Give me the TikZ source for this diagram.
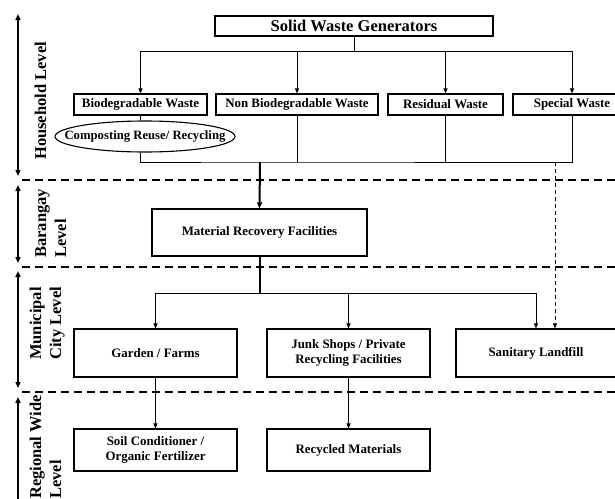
\documentclass[tikz,border=0pt]{standalone}
\usepackage{fontspec}
\setmainfont{Liberation Serif}
\usetikzlibrary{arrows.meta,shapes.geometric}
\begin{document}
\begin{tikzpicture}[x=1pt,y=1pt,
  box/.style={draw,line width=1.1pt,inner sep=0pt,align=center,
    font=\bfseries\fontsize{12.9}{15.5}\selectfont},
  lbl/.style={inner sep=0pt,align=center,font=\bfseries\fontsize{12.7}{15}\selectfont},
  lvl/.style={rotate=90,inner sep=0pt,align=left,
    font=\bfseries\fontsize{16.5}{20}\selectfont},
  conn/.style={line width=1pt},
  arr/.style={line width=1pt,-{Triangle[length=5pt,width=4pt]}},
  bigarr/.style={line width=2pt,-{Triangle[length=6pt,width=5pt]}},
  sep/.style={line width=2pt,dash pattern=on 8pt off 5pt},
  side/.style={line width=1.6pt,{Triangle[length=6pt,width=5pt]}-{Triangle[length=6pt,width=5pt]}},
  dotarr/.style={line width=1pt,dash pattern=on 4pt off 3pt,-{Triangle[length=5pt,width=4pt]}}]
\useasboundingbox (0,0) rectangle (615,-498);
\clip (0,0) rectangle (615,-498);

% level separators
\coordinate (s1a) at (22,-180); \coordinate (s1b) at (615,-180);
\coordinate (s2a) at (22,-267); \coordinate (s2b) at (615,-267);
\coordinate (s3a) at (22,-392); \coordinate (s3b) at (615,-392);
\draw[sep] (s1a) -- (s1b);
\draw[sep] (s2a) -- (s2b);
\draw[sep] (s3a) -- (s3b);

% side arrows
\coordinate (h1) at (18,-14);  \coordinate (h2) at (18,-176);
\coordinate (b1) at (18,-185); \coordinate (b2) at (18,-263);
\coordinate (m1) at (18,-271); \coordinate (m2) at (18,-388);
\coordinate (r1) at (18,-397); \coordinate (r2) at (18,-505);
\draw[side] (h1) -- (h2);
\draw[side] (b1) -- (b2);
\draw[side] (m1) -- (m2);
\draw[side] (r1) -- (r2);

% level labels (anchor = baseline of the last line)
\node[lvl,anchor=base west] (lh) at (46,-160) {Household Level};
\node[lvl,anchor=base west] (lb) at (66,-258) {Barangay\\Level};
\node[lvl,anchor=base west] (lm) at (61,-360) {Municipal\\City Level};
\node[lvl,anchor=base west] (lr) at (61,-499) {Regional Wide\\Level};

% boxes
\node[box,minimum width=278pt,minimum height=20pt,font=\bfseries\fontsize{16.5}{18}\selectfont] (gen) at (354,-26) {Solid Waste Generators};
\node[box,minimum width=133pt,minimum height=21pt] (bio) at (140.5,-104.5) {Biodegradable Waste};
\node[box,minimum width=162pt,minimum height=21pt] (nbio) at (297,-104.5) {Non Biodegradable Waste};
\node[box,minimum width=115pt,minimum height=21pt] (res) at (445.5,-104.5) {Residual Waste};
\node[box,minimum width=118pt,minimum height=21pt] (spec) at (572,-104.5) {Special Waste};
\node[draw,line width=1.1pt,ellipse,inner sep=0pt,minimum width=180pt,minimum height=31pt] (comp) at (145,-136.5) {};
\node[lbl] (compt) at (comp.center) {Composting Reuse/ Recycling};
\node[box,minimum width=215pt,minimum height=47pt] (mrf) at (259.5,-232.5) {Material Recovery Facilities};
\node[box,minimum width=163pt,minimum height=48pt] (gar) at (155.5,-353) {Garden / Farms};
\node[box,minimum width=163pt,minimum height=48pt] (junk) at (348.5,-353) {Junk Shops / Private\\Recycling Facilities};
\node[box,minimum width=160pt,minimum height=48pt] (land) at (536,-353) {Sanitary Landfill};
\node[box,minimum width=163pt,minimum height=42pt] (soil) at (155.5,-450) {Soil Conditioner /\\Organic Fertilizer};
\node[box,minimum width=163pt,minimum height=42pt] (rec) at (348.5,-450) {Recycled Materials};

% generator to waste types
\draw[conn] (gen.south) -- ++(0,-15) coordinate (j1);
\draw[arr] (j1) -| (bio.north);
\draw[arr] (j1) -| (nbio.north);
\draw[arr] (j1) -| (res.north);
\draw[arr] (j1) -| (spec.north);

% waste types to collection line
\coordinate (j2) at (260,-162);
\draw[conn] (bio.south) -- (bio.south |- comp.north);
\draw[conn] (bio.south |- comp.south) |- (j2) -| (spec.south);
\draw[conn] (nbio.south) -- (nbio.south |- j2);
\draw[conn] (res.south) -- (res.south |- j2);
\draw[bigarr] (j2) -- (mrf.north);

% special waste to landfill
\coordinate (j3) at (555,-162);
\draw[dotarr] (j3) -- (j3 |- land.north);

% MRF to municipal level
\draw[line width=2pt] (mrf.south) -- ++(0,-37) coordinate (j4);
\draw[conn] (gar.north |- j4) -- (land.north |- j4);
\draw[arr] (j4) -| (gar.north);
\draw[arr] (j4) -| (junk.north);
\draw[arr] (j4) -| (land.north);

% regional level
\draw[arr] (gar.south) -- (soil.north);
\draw[arr] (junk.south) -- (rec.north);
\end{tikzpicture}
\end{document}
